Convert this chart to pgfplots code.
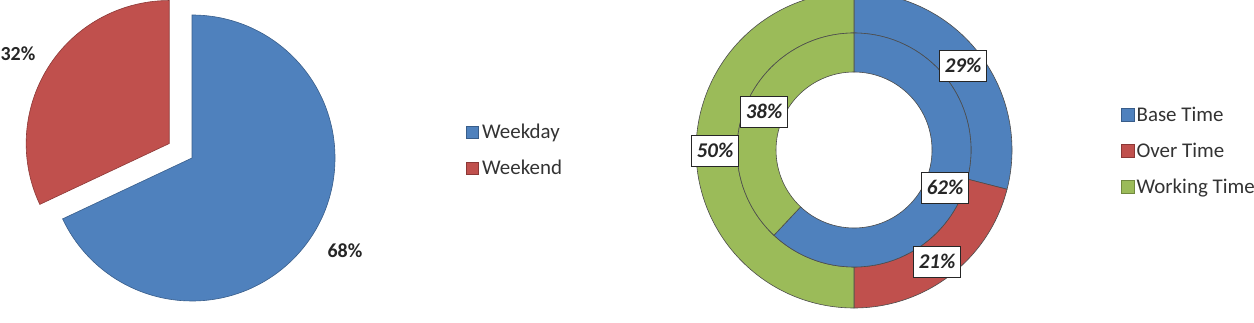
\documentclass[border=0pt]{standalone}
\usepackage{pgfplots}
\pgfplotsset{compat=1.18}
\usepackage{pgfplotstable}
\usepackage{fontspec}
\setmainfont{Carlito}

\definecolor{cblue}{HTML}{4F81BD}
\definecolor{cred}{HTML}{C0504D}
\definecolor{cgreen}{HTML}{9BBB59}
\definecolor{eblue}{HTML}{385D8A}
\definecolor{ered}{HTML}{8C3836}
\definecolor{egreen}{HTML}{71893F}

\pgfplotstableread{
name value
Weekday 68
Weekend 32
}\daytable

\pgfplotstableread{
name outer inner
Base 29 62
Over 21 0
Working 50 38
}\timetable

\pgfplotsset{
  base/.style={hide axis, scale only axis, width=1254bp, height=323bp,
    xmin=0, xmax=1254, ymin=0, ymax=323,
    legend cell align=left,
    legend style={draw=none, fill=none, inner sep=0pt,
      font=\fontsize{21}{25}\selectfont, text=black!80,
      row sep=16bp},
  },
}

\newcommand\ring[7]{% cx cy rin rout start end style
  \filldraw[#7] (axis cs:#1,#2) ++(#5:#4) arc[start angle=#5, end angle=#6, radius=#4]
    -- ++(#6+180:{#4-#3}) arc[start angle=#6, end angle=#5, radius=#3] -- cycle;}

\begin{document}
\begin{tikzpicture}
% angles from data (clockwise from 12 o'clock)
\pgfplotstablegetelem{0}{value}\of\daytable \pgfmathsetmacro\dA{90-3.6*\pgfplotsretval}
\pgfplotstablegetelem{1}{value}\of\daytable \pgfmathsetmacro\dB{\dA-3.6*\pgfplotsretval}
\pgfmathsetmacro\dMid{(\dA+\dB)/2}
\pgfplotstablegetelem{0}{outer}\of\timetable \pgfmathsetmacro\oA{90-3.6*\pgfplotsretval}
\pgfplotstablegetelem{1}{outer}\of\timetable \pgfmathsetmacro\oB{\oA-3.6*\pgfplotsretval}
\pgfplotstablegetelem{2}{outer}\of\timetable \pgfmathsetmacro\oC{\oB-3.6*\pgfplotsretval}
\pgfplotstablegetelem{0}{inner}\of\timetable \pgfmathsetmacro\iA{90-3.6*\pgfplotsretval}
\pgfplotstablegetelem{1}{inner}\of\timetable \pgfmathsetmacro\iB{\iA-3.6*\pgfplotsretval}
\pgfplotstablegetelem{2}{inner}\of\timetable \pgfmathsetmacro\iC{\iB-3.6*\pgfplotsretval}

\begin{axis}[base,
  legend image code/.code={\draw[#1] (0bp,-6bp) rectangle (12bp,6bp);},
  legend style={at={(466/1254,173/323)}, anchor=west, nodes={inner xsep=3.5bp}}]
  \addlegendimage{fill=cblue, draw=eblue}
  \addlegendentry{Weekday}
  \addlegendimage{fill=cred, draw=ered}
  \addlegendentry{Weekend}
  % pie
  \filldraw[fill=cblue, draw=eblue, line width=0.6bp] (axis cs:192,165) -- ++(90:143bp)
     arc[start angle=90, end angle=\dA, radius=143bp] -- cycle;
  \filldraw[fill=cred, draw=ered, line width=0.6bp] (axis cs:192,165) ++(\dMid:27bp) -- ++(\dA:143bp)
     arc[start angle=\dA, end angle=\dB, radius=143bp] -- cycle;
  \node[font=\bfseries\fontsize{20}{24}\selectfont, text=black!85] at (axis cs:18,269) {32\%};
  \node[font=\bfseries\fontsize{20}{24}\selectfont, text=black!85] at (axis cs:345,72) {68\%};
\end{axis}

\begin{axis}[base, name=ax,
  legend image code/.code={\draw[#1] (0bp,-6bp) rectangle (13bp,7bp);},
  legend style={at={(1121/1254,172/323)}, anchor=west, nodes={inner xsep=2bp}}]
  \addlegendimage{fill=cblue, draw=eblue}
  \addlegendentry{Base Time}
  \addlegendimage{fill=cred, draw=ered}
  \addlegendentry{Over Time}
  \addlegendimage{fill=cgreen, draw=egreen}
  \addlegendentry{Working Time}
  % outer ring
  \ring{854}{173}{117bp}{158bp}{90}{\oA}{fill=cblue, draw=black!70, line width=0.6bp}
  \ring{854}{173}{117bp}{158bp}{\oA}{\oB}{fill=cred, draw=black!70, line width=0.6bp}
  \ring{854}{173}{117bp}{158bp}{\oB}{\oC}{fill=cgreen, draw=black!70, line width=0.6bp}
  % inner ring
  \ring{854}{173}{78bp}{117bp}{90}{\iA}{fill=cblue, draw=black!70, line width=0.6bp}
  \ring{854}{173}{78bp}{117bp}{\iB}{\iC}{fill=cgreen, draw=black!70, line width=0.6bp}
  \tikzset{lab/.style={draw=black!85, line width=1.1bp, fill=white, inner xsep=5bp,
     inner ysep=8bp, text height=14bp, text depth=1bp,
     font=\bfseries\itshape\fontsize{21}{25}\selectfont, text=black!85}}
  \node[lab] at (axis cs:963,257) {29\%};
  \node[lab] at (axis cs:764,211) {38\%};
  \node[lab] at (axis cs:715,172) {50\%};
  \node[lab] at (axis cs:945,135) {62\%};
  \node[lab] at (axis cs:937,61) {21\%};
\end{axis}
\pgfresetboundingbox
\useasboundingbox (ax.south west) rectangle (ax.north east);
\end{tikzpicture}
\end{document}
